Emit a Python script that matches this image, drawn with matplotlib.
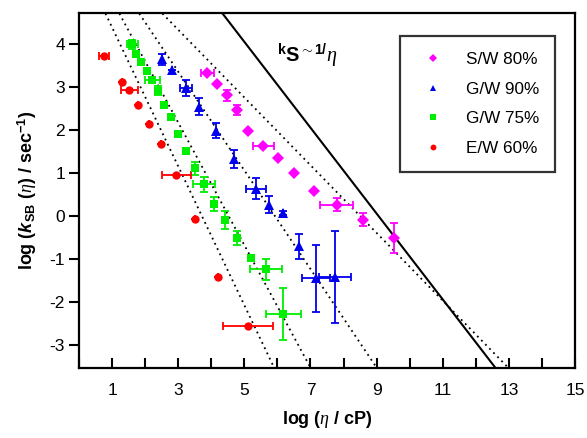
import matplotlib
matplotlib.use("Agg")
import matplotlib.pyplot as plt
import numpy as np

plt.rcParams['font.family'] = ['Liberation Sans', 'DejaVu Sans']
plt.rcParams['axes.unicode_minus'] = False
plt.rcParams['mathtext.fontset'] = 'custom'
plt.rcParams['mathtext.rm'] = 'Liberation Sans'
plt.rcParams['mathtext.bf'] = 'Liberation Sans:bold'
plt.rcParams['mathtext.it'] = 'Liberation Serif:italic'
plt.rcParams['mathtext.bfit'] = 'Liberation Sans:bold:italic'

# ---- data ----
ew_x = [0.76, 1.29, 1.52, 1.79, 2.12, 2.49, 2.94, 3.50, 4.19, 5.10]
ew_y = [3.74, 3.12, 2.93, 2.58, 2.15, 1.69, 0.96, -0.06, -1.42, -2.56]
ew_xerr = [0.15, 0, 0.26, 0, 0, 0, 0.44, 0, 0, 0.76]
ew_yerr = [0, 0, 0, 0, 0, 0, 0, 0, 0, 0]

gw75_x = [1.61, 1.72, 1.88, 2.05, 2.22, 2.38, 2.56, 2.78, 2.99, 3.23, 3.50, 3.78, 4.08, 4.42, 4.79, 5.20, 5.65, 6.18]
gw75_y = [4.00, 3.77, 3.60, 3.38, 3.16, 2.92, 2.60, 2.31, 1.91, 1.52, 1.11, 0.74, 0.28, -0.10, -0.51, -0.97, -1.24, -2.28]
gw75_xerr = [0.17, 0, 0, 0, 0.22, 0, 0, 0, 0, 0, 0, 0.34, 0, 0, 0, 0, 0.49, 0.53]
gw75_yerr = [0.10, 0.05, 0, 0, 0.05, 0.10, 0, 0, 0, 0, 0.15, 0.17, 0.17, 0.21, 0.17, 0.05, 0.24, 0.60]

gw90_x = [2.50, 2.80, 3.23, 3.64, 4.13, 4.70, 5.35, 5.76, 6.18, 6.65, 7.17, 7.74]
gw90_y = [3.65, 3.40, 2.98, 2.55, 1.99, 1.33, 0.64, 0.27, 0.08, -0.70, -1.45, -1.41]
gw90_xerr = [0, 0, 0.19, 0, 0, 0, 0.30, 0, 0, 0, 0.43, 0.48]
gw90_yerr = [0.12, 0, 0.19, 0.20, 0.17, 0.20, 0.24, 0.19, 0.05, 0.29, 0.78, 1.07]

sw_x = [3.88, 4.18, 4.47, 4.79, 5.12, 5.57, 6.01, 6.50, 7.11, 7.79, 8.60, 9.53]
sw_y = [3.34, 3.08, 2.81, 2.47, 1.99, 1.64, 1.35, 1.01, 0.58, 0.27, -0.08, -0.51]
sw_xerr = [0.20, 0, 0, 0, 0, 0.32, 0, 0, 0, 0.50, 0, 0]
sw_yerr = [0, 0, 0.12, 0.12, 0, 0, 0, 0, 0, 0.15, 0.15, 0.34]

# dotted fit lines: (x at top, x at bottom) of the axes
fit_x0 = [0.80, 1.22, 1.82, 2.52]
fit_x1 = [5.90, 7.00, 9.00, 12.98]
# solid line k_S ~ 1/eta: slope -1, intercept
ks_intercept = 9.06

labels = ['S/W 80%', 'G/W 90%', 'G/W 75%', 'E/W 60%']
colors = ['#ff00ff', '#0000ee', '#00ee00', '#ff0000']
markers = ['D', '^', 's', 'o']

XMIN, XMAX = 0, 15
YMIN, YMAX = -3.53, 4.72

fig = plt.figure(figsize=(5.87, 4.38), dpi=100)
ax = fig.add_axes([0.1346, 0.1605, 0.8450, 0.8087])

# lines
for x0, x1 in zip(fit_x0, fit_x1):
    ax.plot([x0, x1], [YMAX, YMIN], color='black', lw=1.3,
            linestyle=(0, (1, 2.2)), zorder=1)
xs = np.array([ks_intercept - YMAX, ks_intercept - YMIN])
ax.plot(xs, ks_intercept - xs, color='black', lw=1.5, zorder=1)

series = [
    (sw_x, sw_y, sw_xerr, sw_yerr),
    (gw90_x, gw90_y, gw90_xerr, gw90_yerr),
    (gw75_x, gw75_y, gw75_xerr, gw75_yerr),
    (ew_x, ew_y, ew_xerr, ew_yerr),
]
msizes = [6.0, 6.5, 5.5, 6.0]
for (x, y, xe, ye), lab, c, m, ms in zip(series, labels, colors, markers, msizes):
    ax.errorbar(x, y, xerr=xe, yerr=ye, fmt='none', ecolor=c, elinewidth=1.3,
                capsize=3, capthick=1.3, zorder=2)
    ax.plot(x, y, linestyle='none', marker=m, color=c, markersize=ms,
            markeredgewidth=0, label=lab, zorder=3)

ax.set_xlim(XMIN, XMAX)
ax.set_ylim(YMIN, YMAX)
ax.set_xticks(range(0, 16))
ax.set_xticklabels([str(i) if i % 2 == 1 else '' for i in range(0, 16)])
ax.set_yticks([-3, -2, -1, 0, 1, 2, 3, 4])
ax.set_yticklabels(['-3', '-2', '-1', '0', '1', '2', '3', '4'])
ax.tick_params(axis='x', direction='in', length=7, width=1.5, labelsize=12.5, pad=11)
ax.tick_params(axis='y', direction='out', length=7, width=1.5, labelsize=12.5, pad=3)
ax.tick_params(top=False, right=False)
for s in ax.spines.values():
    s.set_linewidth(1.6)

ax.set_xlabel(r'log ($\eta$ / cP)', fontsize=13, fontweight='bold', labelpad=8)
ax.set_ylabel(r'log ($\mathbfit{k}_{\mathbf{SB}}$ ($\eta$) / sec$^{\mathbf{-1}}$)',
              fontsize=13, fontweight='bold', labelpad=8)

ax.text(0.399, 0.92, r'${}^{\mathbf{k}}\mathbf{S}^{\mathbf{\sim 1/}}\eta$',
        transform=ax.transAxes, fontsize=14.5, fontweight='bold', ha='left', va='top')

leg = ax.legend(loc='upper right', bbox_to_anchor=(0.960, 0.9365), fontsize=12.3,
                frameon=True, fancybox=False, markerscale=0.7,
                labelspacing=0.85, handletextpad=0.9, borderpad=0.95,
                handlelength=2.0, borderaxespad=0)
leg.get_frame().set_edgecolor('black')
leg.get_frame().set_linewidth(1.6)

fig.savefig('out.png', dpi=100)
